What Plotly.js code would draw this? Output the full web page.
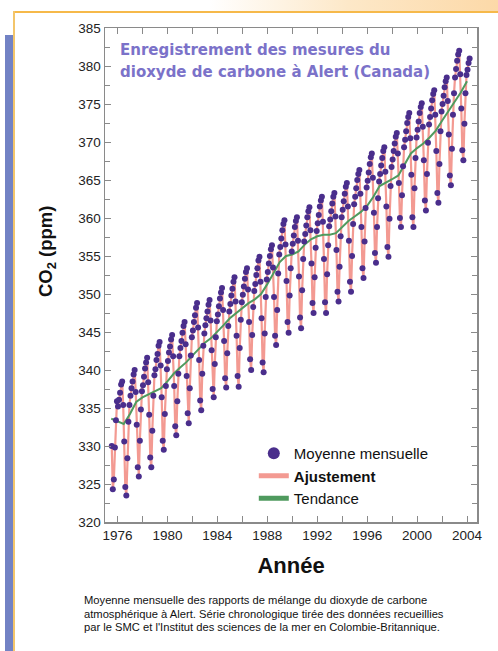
<!DOCTYPE html>
<html><head><meta charset="utf-8">
<script src="https://cdn.plot.ly/plotly-3.0.1.min.js"></script>
<style>
html,body{margin:0;padding:0;background:#fff;width:498px;height:651px;overflow:hidden;}
#topband{position:absolute;left:0;top:0;width:498px;height:11px;background:linear-gradient(to right,#ffffff 0%,#ffffff 42%,#fde8c8 70%,#fcd9a8 100%);}
#topline{position:absolute;left:13px;top:11px;width:485px;height:2px;background:#f6b94a;}
#vline{position:absolute;left:13px;top:11px;width:2px;height:640px;background:#f3c56a;}
#bluebar{position:absolute;left:5px;top:35px;width:8px;height:616px;background:#7282c4;}
#chart{position:absolute;left:0;top:0;width:498px;height:651px;}
</style></head>
<body>
<div id="topband"></div><div id="topline"></div><div id="vline"></div><div id="bluebar"></div>
<div id="chart"></div>
<script>
// Monthly mean CO2 (ppm) at Alert, Jan..Dec for each year
const years = [1975,1976,1977,1978,1979,1980,1981,1982,1983,1984,1985,1986,1987,1988,1989,
               1990,1991,1992,1993,1994,1995,1996,1997,1998,1999,2000,2001,2002,2003,2004];
const co2_1975 = [null,null,null,null,null,null,330.0,324.3,325.6,329.8,333.4,335.9];
const co2_1976 = [335.2,336.1,337.0,338.1,338.5,335.4,330.6,324.6,323.5,328.4,333.2,335.4];
const co2_1977 = [336.6,337.6,338.5,339.4,340.0,337.1,332.8,327.2,326.0,330.7,334.8,337.2];
const co2_1978 = [338.0,339.1,340.2,341.0,341.6,338.4,334.1,328.5,327.2,332.0,336.6,339.3];
const co2_1979 = [340.1,341.3,342.1,343.2,343.7,340.6,336.4,330.7,329.5,334.2,337.9,340.1];
const co2_1980 = [341.2,342.3,343.1,344.0,344.6,341.8,337.9,332.6,331.4,335.9,339.5,341.8];
const co2_1981 = [342.9,343.8,344.9,345.8,346.3,343.4,339.2,334.3,333.0,337.6,341.9,344.3];
const co2_1982 = [345.2,346.3,347.2,348.2,348.8,345.6,341.3,336.0,334.7,339.5,343.2,344.8];
const co2_1983 = [345.9,346.8,347.7,348.6,349.2,346.5,342.6,337.5,336.4,340.8,344.3,346.4];
const co2_1984 = [347.3,348.4,349.4,350.2,350.8,347.9,343.8,338.9,337.7,342.2,345.8,347.7];
const co2_1985 = [348.7,349.8,350.7,351.6,352.2,349.0,344.5,339.2,337.8,342.9,346.6,348.9];
const co2_1986 = [349.9,351.0,352.0,352.9,353.4,350.6,346.3,341.4,340.0,344.6,348.3,350.4];
const co2_1987 = [351.3,352.5,353.4,354.4,354.9,351.6,346.8,341.0,339.7,344.8,349.6,351.9];
const co2_1988 = [352.9,354.0,355.0,355.9,356.4,353.5,349.6,344.5,343.3,347.9,352.7,355.2];
const co2_1989 = [356.2,357.3,358.4,359.2,359.7,356.5,351.7,346.3,344.9,349.8,353.4,355.6];
const co2_1990 = [356.6,357.7,358.8,359.6,360.1,357.0,352.3,346.9,345.5,350.5,354.6,356.9];
const co2_1991 = [357.9,359.0,360.1,360.9,361.4,358.4,354.0,348.8,347.5,352.2,356.1,358.3];
const co2_1992 = [359.3,360.4,361.5,362.3,362.8,359.5,354.6,348.9,347.5,352.6,356.4,358.9];
const co2_1993 = [359.8,360.9,361.9,362.8,363.3,360.2,355.8,350.3,349.0,353.6,357.6,360.1];
const co2_1994 = [361.1,362.2,363.2,364.1,364.6,361.5,357.0,351.6,350.3,355.0,359.2,361.8];
const co2_1995 = [362.8,363.9,365.0,365.8,366.3,363.2,358.8,353.4,352.1,356.9,361.3,364.0];
const co2_1996 = [364.9,366.0,367.1,368.0,368.5,365.3,360.7,355.4,354.1,358.8,362.6,364.8];
const co2_1997 = [365.8,366.9,367.9,368.8,369.3,366.1,361.5,356.2,354.9,359.9,364.2,366.7];
const co2_1998 = [367.7,368.8,369.8,370.7,371.2,368.5,364.6,360.0,358.8,363.0,366.8,369.3];
const co2_1999 = [370.3,371.4,372.5,373.3,373.8,370.5,365.7,360.1,358.8,363.9,367.9,370.6];
const co2_2000 = [371.6,372.7,373.8,374.6,375.1,372.0,367.6,362.3,361.0,365.8,369.9,372.3];
const co2_2001 = [373.3,374.4,375.5,376.3,376.8,373.6,368.8,363.3,362.0,367.1,371.4,374.0];
const co2_2002 = [375.0,376.1,377.2,378.0,378.5,375.4,371.0,365.6,364.3,369.1,373.6,376.4];
const co2_2003 = [378.5,379.6,380.7,381.5,382.0,378.9,374.4,368.9,367.6,372.4,376.4,378.8];
const co2_2004 = [379.5,380.4,381.0,null,null,null,null,null,null,null,null,null];
const monthly = [co2_1975,co2_1976,co2_1977,co2_1978,co2_1979,co2_1980,co2_1981,co2_1982,co2_1983,
  co2_1984,co2_1985,co2_1986,co2_1987,co2_1988,co2_1989,co2_1990,co2_1991,co2_1992,co2_1993,
  co2_1994,co2_1995,co2_1996,co2_1997,co2_1998,co2_1999,co2_2000,co2_2001,co2_2002,co2_2003,co2_2004];

// Trend (Tendance), read at half-year steps
const trendTime = [1975.5,1976.0,1976.5,1977.0,1977.5,1978.0,1978.5,1979.0,1979.5,1980.0,1980.5,
  1981.0,1981.5,1982.0,1982.5,1983.0,1983.5,1984.0,1984.5,1985.0,1985.5,1986.0,1986.5,1987.0,1987.5,
  1988.0,1988.5,1989.0,1989.5,1990.0,1990.5,1991.0,1991.5,1992.0,1992.5,1993.0,1993.5,1994.0,1994.5,
  1995.0,1995.5,1996.0,1996.5,1997.0,1997.5,1998.0,1998.5,1999.0,1999.5,2000.0,2000.5,2001.0,2001.5,
  2002.0,2002.5,2003.0,2003.5,2004.0];
const trendCO2 = [333.6,333.2,332.9,334.2,335.8,336.4,336.8,337.2,337.6,338.5,339.5,
  340.3,341.0,341.9,342.8,343.6,344.2,345.0,345.9,346.8,347.5,348.1,348.8,349.3,350.0,
  351.3,352.8,354.2,355.0,355.2,355.6,356.5,357.2,357.6,357.8,357.8,358.0,358.8,359.6,
  360.2,360.8,361.6,362.8,364.2,364.6,365.1,365.6,367.0,368.5,369.2,369.8,370.6,371.5,
  372.8,374.0,375.2,376.5,378.0];

const xTickVals = [1976,1980,1984,1988,1992,1996,2000,2004];

const tx = [], ty = [];
years.forEach((yr, i) => {
  monthly[i].forEach((v, m) => {
    if (v !== null) { tx.push(yr + (m + 0.5) / 12); ty.push(v); }
  });
});

const FONT = 'Liberation Sans, Arial, sans-serif';
const WIDE = 'DejaVu Sans, Verdana, sans-serif';

const traces = [
  {x: tx, y: ty, mode: 'lines', name: '<b>Ajustement</b>', legendrank: 2,
   line: {color: '#f39a92', width: 2.2}},
  {x: trendTime, y: trendCO2, mode: 'lines', name: 'Tendance', legendrank: 3,
   line: {color: '#4f9a5e', width: 2}},
  {x: tx, y: ty, mode: 'markers', name: 'Moyenne mensuelle', legendrank: 1,
   marker: {color: '#4a2e8c', size: 6}}
];

const axisCommon = {
  showline: true, linecolor: '#8a8a8a', linewidth: 1.5, mirror: 'ticks',
  ticks: 'inside', ticklen: 6, tickcolor: '#8a8a8a', tickwidth: 1,
  showgrid: false, zeroline: false,
  tickfont: {family: FONT, size: 13.5, color: '#222'}
};

const layout = {
  width: 498, height: 651,
  margin: {l: 105, r: 21, t: 28, b: 129},
  paper_bgcolor: 'rgba(0,0,0,0)', plot_bgcolor: '#ffffff',
  showlegend: true,
  legend: {x: 0.40, y: 0.172, xanchor: 'left', yanchor: 'top', bgcolor: 'rgba(0,0,0,0)',
    font: {family: FONT, size: 15, color: '#111'}, itemsizing: 'constant', tracegroupgap: 0},
  xaxis: Object.assign({}, axisCommon, {
    range: [1975, 2004.8], tickmode: 'array', tickvals: xTickVals,
    ticktext: xTickVals.map(String),
    minor: {dtick: 2, tick0: 1976, ticks: 'inside', ticklen: 6, tickcolor: '#8a8a8a'},
    title: {text: '<b>Année</b>', font: {family: FONT, size: 22, color: '#111'}, standoff: 16}
  }),
  yaxis: Object.assign({}, axisCommon, {
    range: [320, 385], tick0: 320, dtick: 5, tickmode: 'linear',
    minor: {dtick: 2.5, tick0: 320, ticks: 'inside', ticklen: 5, tickcolor: '#8a8a8a'}
  }),
  annotations: [
    {xref: 'paper', yref: 'paper', x: (47 - 105) / 372, y: (522 - 252) / 494, xanchor: 'center', yanchor: 'middle',
     textangle: -90, showarrow: false, text: '<b>CO<sub>2</sub> (ppm)</b>',
     font: {family: FONT, size: 18.5, color: '#111'}},
    {xref: 'paper', yref: 'paper', x: (118 - 105) / 372, y: (522 - 50) / 494, xanchor: 'left', yanchor: 'middle',
     showarrow: false, text: '<b>Enregistrement des mesures du</b>',
     font: {family: WIDE, size: 15, color: '#7b72c9'}},
    {xref: 'paper', yref: 'paper', x: (118 - 105) / 372, y: (522 - 72) / 494, xanchor: 'left', yanchor: 'middle',
     showarrow: false, text: '<b>dioxyde de carbone à Alert (Canada)</b>',
     font: {family: WIDE, size: 15, color: '#7b72c9'}},
    {xref: 'paper', yref: 'paper', x: (82 - 105) / 372, y: (522 - 600) / 494, xanchor: 'left', yanchor: 'middle',
     showarrow: false, text: 'Moyenne mensuelle des rapports de mélange du dioxyde de carbone',
     font: {family: FONT, size: 11.2, color: '#111'}},
    {xref: 'paper', yref: 'paper', x: (82 - 105) / 372, y: (522 - 613.5) / 494, xanchor: 'left', yanchor: 'middle',
     showarrow: false, text: 'atmosphérique à Alert. Série chronologique tirée des données recueillies',
     font: {family: FONT, size: 11.2, color: '#111'}},
    {xref: 'paper', yref: 'paper', x: (82 - 105) / 372, y: (522 - 627) / 494, xanchor: 'left', yanchor: 'middle',
     showarrow: false, text: "par le SMC et l'Institut des sciences de la mer en Colombie-Britannique.",
     font: {family: FONT, size: 11.2, color: '#111'}}
  ]
};

Plotly.newPlot('chart', traces, layout, {displayModeBar: false, staticPlot: true});
</script>
</body></html>
